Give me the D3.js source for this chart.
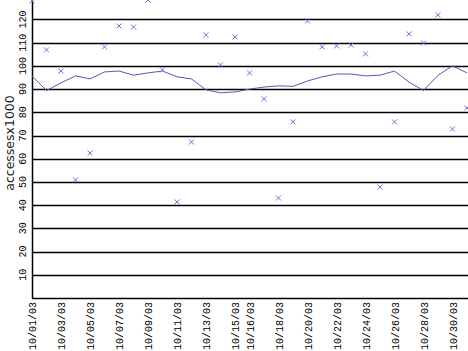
<!DOCTYPE html>
<html>
<head>
<meta charset="utf-8">
<script src="https://cdn.jsdelivr.net/npm/d3@7"></script>
<style>
  body { margin: 0; background: #fff; }
  text { font-family: "Liberation Mono", monospace; fill: #000; }
</style>
</head>
<body>
<script>
// Daily accesses, October 2003

const w = 468;
const h = 351;
const left = 32;
const bottom = 298;

// days of month, raw daily counts and smoothed trend (thousands)
const days = d3.range(1, 32);
const accesses = [128, 106.9, 97.8, 50.9, 62.5, 108.2, 117.2, 116.8, 128.4, 98.3,
                  41.4, 67.2, 113.4, 100.4, 112.5, 97, 85.8, 43.1, 75.9, 119.4,
                  108.2, 108.6, 109, 105.2, 47.8, 75.9, 113.8, 109.9, 122, 72.8, 81.9];
const trend = [95.7, 89.4, 92.7, 95.7, 94.4, 97.4, 97.8, 96, 97, 97.8,
               95.3, 94.4, 89.7, 88.4, 88.8, 90, 90.9, 91.4, 91.2, 93.5,
               95.3, 96.5, 96.5, 95.7, 96, 97.8, 93, 89.4, 96, 100, 97];
const yTicks = [10, 20, 30, 40, 50, 60, 70, 80, 90, 100, 110, 120];
const labelDays = [1, 3, 5, 7, 9, 11, 13, 15, 16, 18, 20, 22, 24, 26, 28, 30];

const fmt = d => "10/" + String(d).padStart(2, "0") + "/03";

const x = d3.scalePoint().domain(days).range([left, 467]);
const y = d3.scaleLinear().domain([0, d3.max(accesses)]).range([bottom, 0]);

const svg = d3.select("body").append("svg")
  .attr("width", w)
  .attr("height", h);

// grid lines
svg.append("g")
  .selectAll("line")
  .data(yTicks)
  .join("line")
  .attr("x1", left).attr("x2", w)
  .attr("y1", d => Math.round(y(d)) + 0.5)
  .attr("y2", d => Math.round(y(d)) + 0.5)
  .attr("stroke", "#000")
  .attr("stroke-width", 1.5);

// axes lines
svg.append("line")
  .attr("x1", left + 0.5).attr("x2", left + 0.5)
  .attr("y1", 0).attr("y2", bottom + 0.5)
  .attr("stroke", "#000").attr("stroke-width", 1.5);
svg.append("line")
  .attr("x1", left).attr("x2", w)
  .attr("y1", bottom + 0.5).attr("y2", bottom + 0.5)
  .attr("stroke", "#000").attr("stroke-width", 1.5);

// y tick labels
svg.append("g")
  .selectAll("text")
  .data(yTicks)
  .join("text")
  .attr("transform", d => "translate(26," + y(d) + ") rotate(-90)")
  .attr("text-anchor", "middle")
  .attr("font-size", 10)
  .text(d => d);

// x tick labels
svg.append("g")
  .selectAll("text")
  .data(labelDays)
  .join("text")
  .attr("transform", d => "translate(" + (x(d) + 4) + "," + (bottom + 4) + ") rotate(-90)")
  .attr("text-anchor", "end")
  .attr("font-size", 10)
  .text(fmt);

// y axis title
svg.append("text")
  .attr("transform", "translate(14,143) rotate(-90)")
  .attr("text-anchor", "middle")
  .style("font-family", "'DejaVu Sans', sans-serif")
  .style("font-size", "12.5px")
  .style("fill", "#222")
  .text("accessesx1000");

// trend line
const line = d3.line()
  .x((d, i) => x(days[i]))
  .y(d => y(d));
svg.append("path")
  .datum(trend)
  .attr("d", line)
  .attr("fill", "none")
  .attr("stroke", "#6a50b8")
  .attr("stroke-width", 1);

// daily points as x marks
svg.append("g")
  .selectAll("path")
  .data(accesses)
  .join("path")
  .attr("transform", (d, i) => "translate(" + x(days[i]) + "," + y(d) + ")")
  .attr("d", "M-2.5,-2.5L2.5,2.5M-2.5,2.5L2.5,-2.5")
  .attr("stroke", "#8068e0")
  .attr("stroke-width", 1)
  .attr("fill", "none");
</script>
</body>
</html>
